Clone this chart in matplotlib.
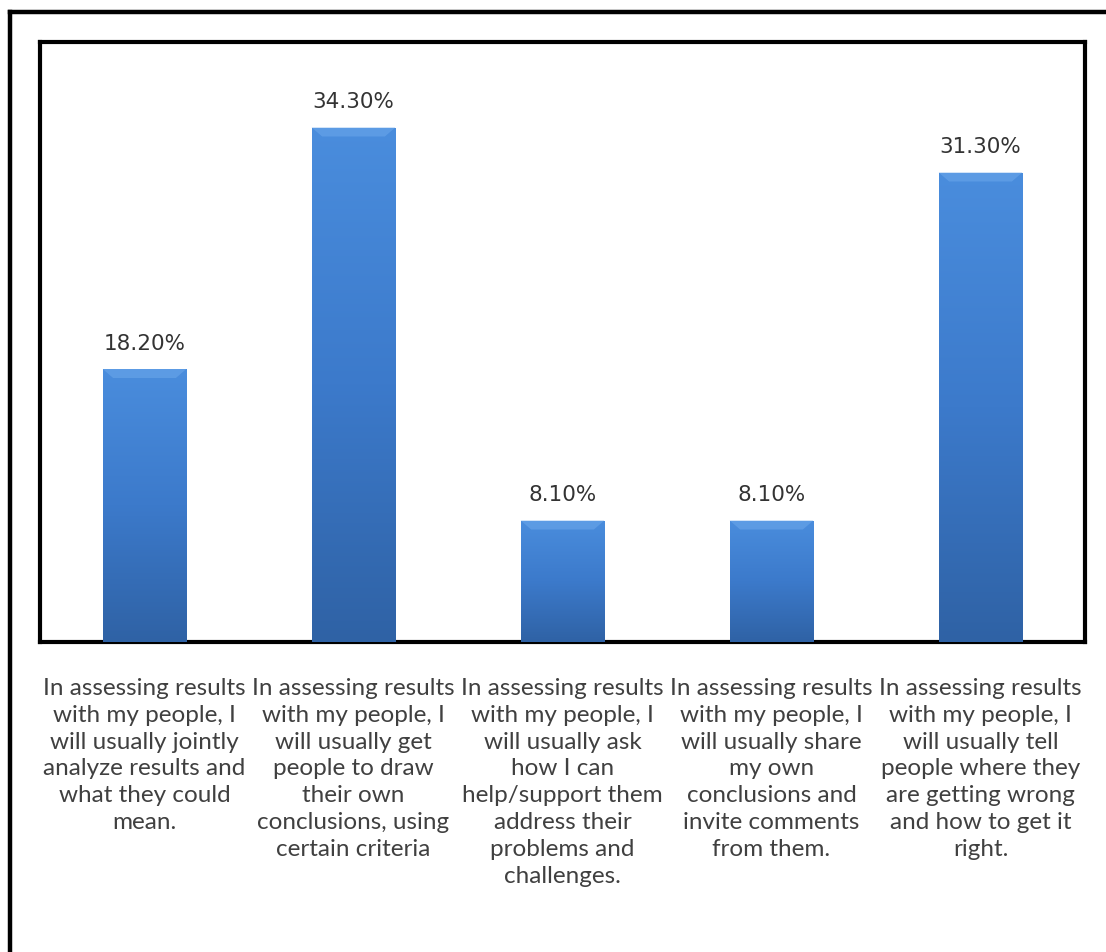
import numpy as np
import matplotlib.pyplot as plt
from matplotlib.colors import LinearSegmentedColormap

categories = [
    "In assessing results\nwith my people, I\nwill usually jointly\nanalyze results and\nwhat they could\nmean.",
    "In assessing results\nwith my people, I\nwill usually get\npeople to draw\ntheir own\nconclusions, using\ncertain criteria",
    "In assessing results\nwith my people, I\nwill usually ask\nhow I can\nhelp/support them\naddress their\nproblems and\nchallenges.",
    "In assessing results\nwith my people, I\nwill usually share\nmy own\nconclusions and\ninvite comments\nfrom them.",
    "In assessing results\nwith my people, I\nwill usually tell\npeople where they\nare getting wrong\nand how to get it\nright.",
]
values = [18.2, 34.3, 8.1, 8.1, 31.3]
labels = ["18.20%", "34.30%", "8.10%", "8.10%", "31.30%"]

fig = plt.figure(figsize=(11.06, 9.52), dpi=100)
ax = fig.add_axes([40/1106, 1 - 642/952, 1045/1106, 600/952])

x = np.arange(len(values))
bars = ax.bar(x, values, width=0.4, color="#3a78c4", zorder=2)

# vertical gradient inside each bar, lighter at top
cmap = LinearSegmentedColormap.from_list("b", ["#2f62a5", "#3c7acb", "#4a8ddd"])
grad = np.linspace(0, 1, 256).reshape(-1, 1)
for b in bars:
    x0, w, h = b.get_x(), b.get_width(), b.get_height()
    im = ax.imshow(grad, cmap=cmap, origin="lower", aspect="auto",
                   extent=[x0, x0 + w, 0, h], zorder=3)
    im.set_clip_path(b)
    # bevel on the top edge
    ax.fill([x0, x0 + w, x0 + w - 0.05, x0 + 0.05],
            [h, h, h - 0.6, h - 0.6], color="#6aa6ea", alpha=0.6, zorder=4, lw=0)

for xi, v, lab in zip(x, values, labels):
    ax.annotate(lab, (xi, v), xytext=(0, 11), textcoords="offset points",
                ha="center", va="bottom", fontsize=15.5, color="#333333",
                family="DejaVu Sans")

ax.set_xlim(-0.5, len(values) - 0.5)
ax.set_ylim(0, 40)
ax.set_yticks([])
ax.set_xticks(x)
ax.set_xticklabels(categories, fontsize=17.5, color="#404040", family="Lato",
                   linespacing=1.34)
ax.tick_params(axis="x", length=0, pad=26)
for s in ax.spines.values():
    s.set_linewidth(3)
    s.set_color("black")

# outer frame (only left and top visible)
fig.add_artist(plt.Line2D([10/1106, 10/1106], [0, 1 - 12/952], color="black", lw=3.2))
fig.add_artist(plt.Line2D([10/1106, 1], [1 - 12/952, 1 - 12/952], color="black", lw=3.2))

fig.savefig("out.png", dpi=100)
